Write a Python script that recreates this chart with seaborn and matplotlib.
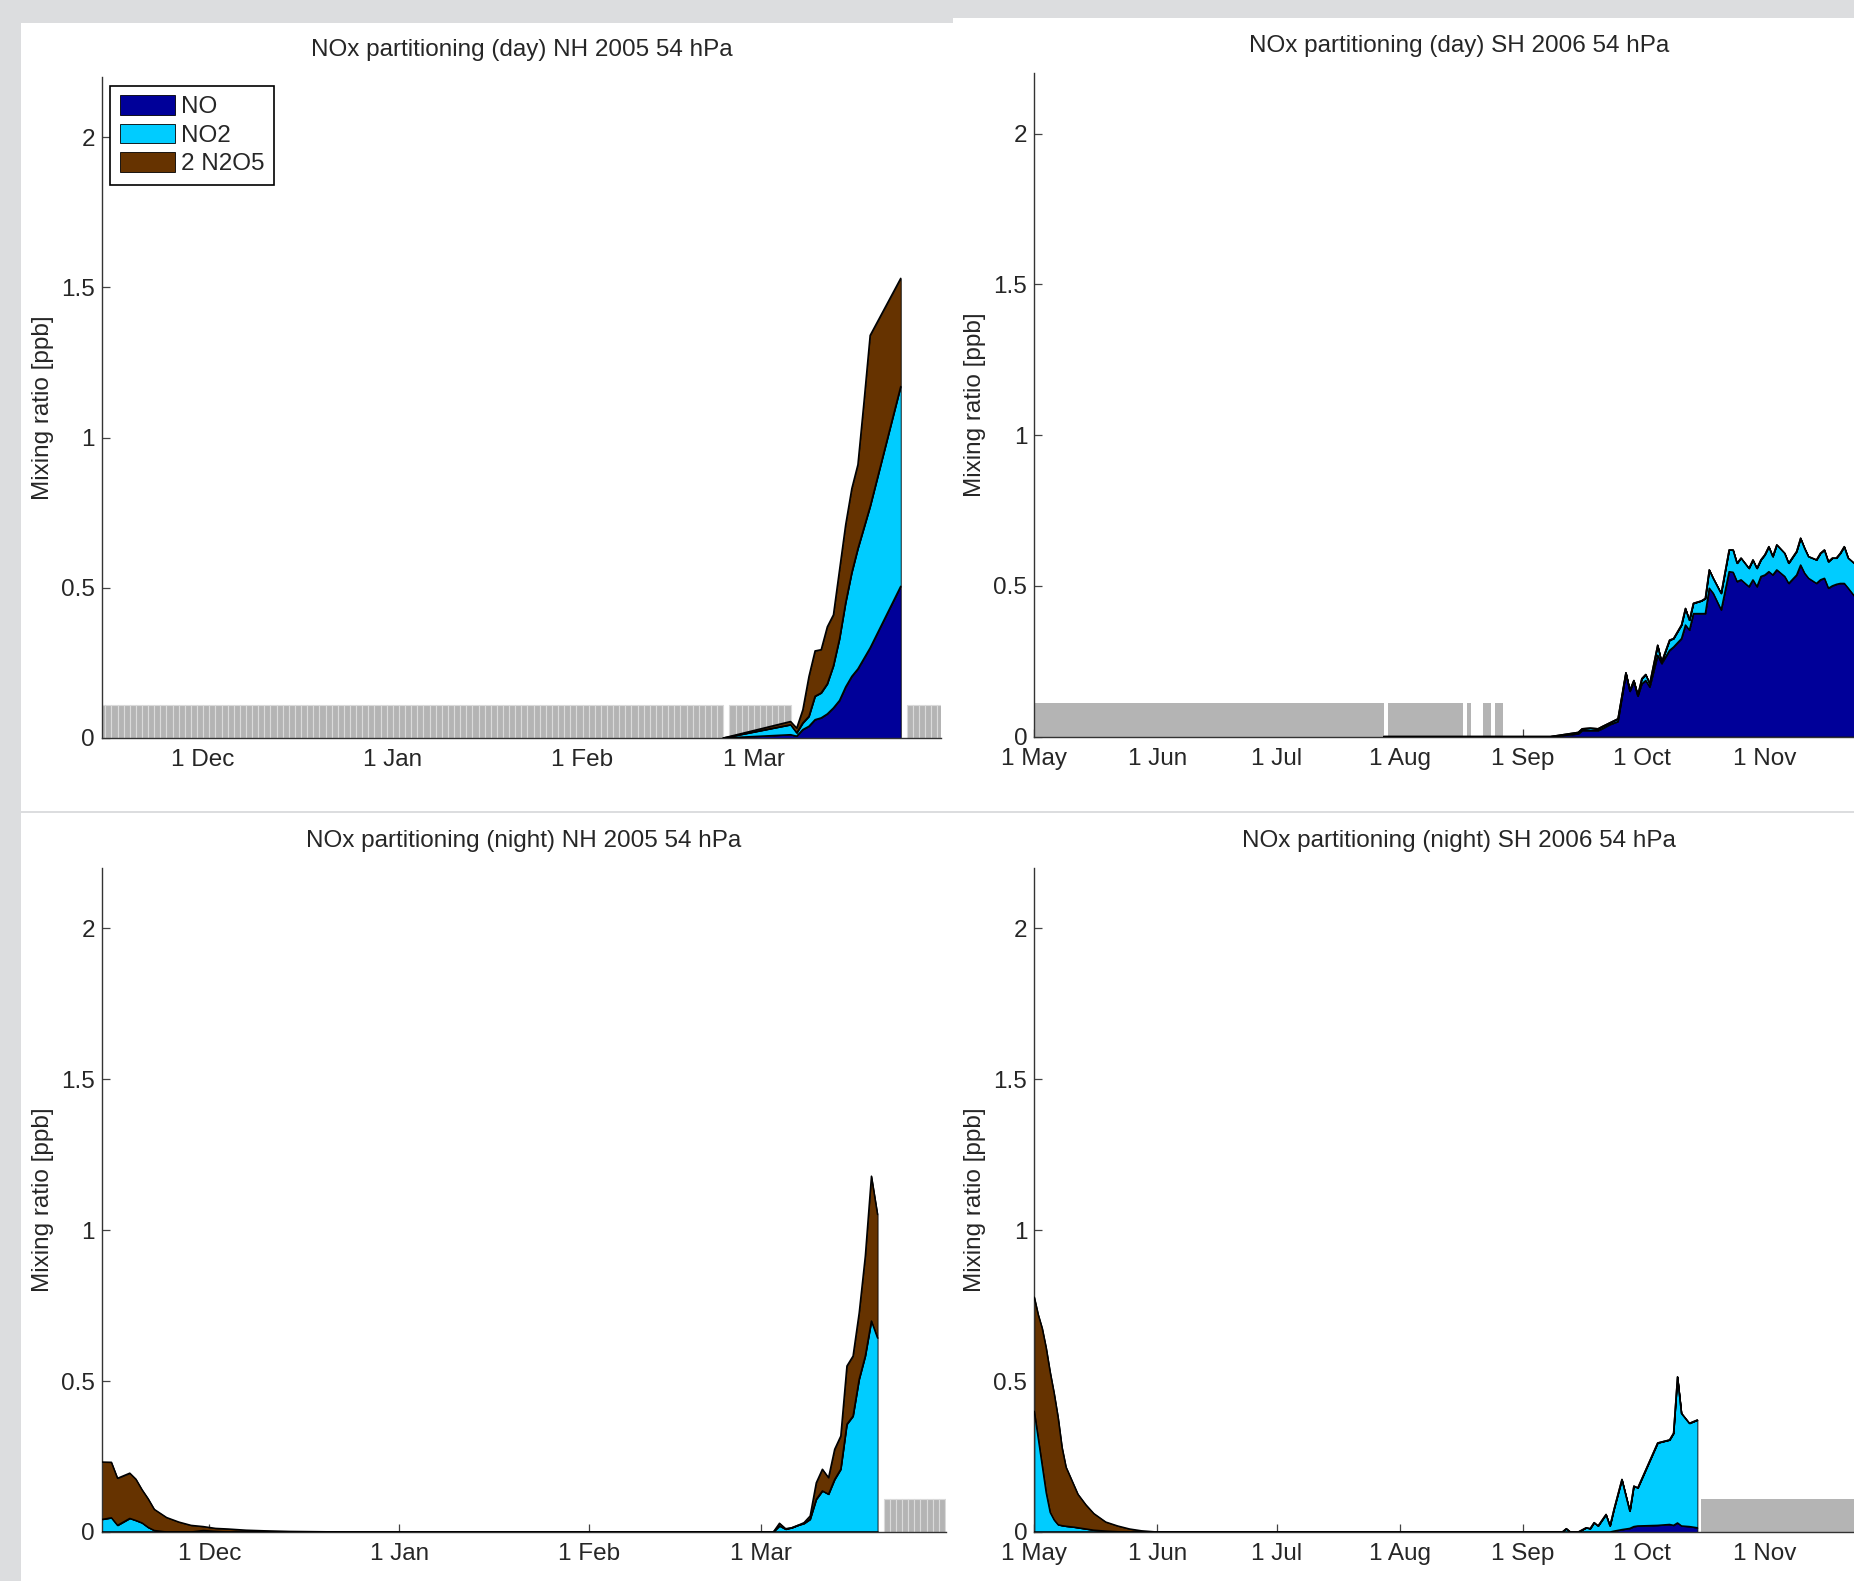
import numpy as np
import pandas as pd
import matplotlib
matplotlib.use('Agg')
import matplotlib.pyplot as plt
import matplotlib.dates as mdates
from matplotlib.patches import Rectangle
import seaborn as sns

# ---- data (mixing ratios in ppb) ----
species = ['NO', 'NO2', '2 N2O5']
species_colors = ['#000099', '#00ccff', '#663300']

# NH 2005, day
nh_day_dates = ['2005-02-24', '2005-03-07', '2005-03-08', '2005-03-09', '2005-03-10', '2005-03-11',
                '2005-03-12', '2005-03-13', '2005-03-14', '2005-03-15', '2005-03-16', '2005-03-17',
                '2005-03-18', '2005-03-19', '2005-03-20', '2005-03-25']
nh_day_no = [0, 0.011, 0.006, 0.028, 0.039, 0.061, 0.067, 0.080, 0.100, 0.125, 0.170, 0.205,
             0.230, 0.265, 0.300, 0.505]
nh_day_no2 = [0, 0.033, 0.011, 0.022, 0.033, 0.078, 0.083, 0.100, 0.140, 0.205, 0.280, 0.345,
              0.400, 0.435, 0.470, 0.665]
nh_day_n2o5 = [0, 0.011, 0.016, 0.044, 0.133, 0.151, 0.144, 0.190, 0.170, 0.230, 0.260, 0.280,
               0.280, 0.420, 0.570, 0.360]
nh_day_gaps = [('2004-11-14', '2005-02-23'), ('2005-02-25', '2005-03-06'), ('2005-03-26', '2005-03-31')]

# NH 2005, night
nh_night_dates = ['2004-11-13', '2004-11-15', '2004-11-16', '2004-11-18', '2004-11-19', '2004-11-20',
                  '2004-11-21', '2004-11-22', '2004-11-24', '2004-11-26', '2004-11-28', '2004-11-30',
                  '2004-12-02', '2004-12-04', '2004-12-07', '2004-12-10', '2004-12-14', '2004-12-24',
                  '2005-01-14', '2005-02-03', '2005-02-23', '2005-03-03', '2005-03-04', '2005-03-05',
                  '2005-03-06', '2005-03-07', '2005-03-08', '2005-03-09', '2005-03-10', '2005-03-11',
                  '2005-03-12', '2005-03-13', '2005-03-14', '2005-03-15', '2005-03-16', '2005-03-17',
                  '2005-03-18', '2005-03-19', '2005-03-20']
nh_night_no = [0] * 39
nh_night_no2 = [0.040, 0.047, 0.022, 0.045, 0.038, 0.030, 0.015, 0.005, 0, 0, 0, 0.005,
                0.002, 0, 0, 0, 0, 0, 0, 0, 0, 0, 0.020, 0.009,
                0.014, 0.022, 0.028, 0.042, 0.108, 0.136, 0.125, 0.174, 0.208, 0.357, 0.384, 0.506,
                0.583, 0.699, 0.643]
nh_night_n2o5 = [0.192, 0.184, 0.156, 0.150, 0.137, 0.110, 0.095, 0.070, 0.048, 0.033, 0.022, 0.013,
                 0.010, 0.010, 0.006, 0.004, 0.002, 0, 0, 0, 0, 0, 0.009, 0.002,
                 0, 0, 0.003, 0.011, 0.055, 0.072, 0.055, 0.100, 0.110, 0.193, 0.199, 0.220,
                 0.331, 0.480, 0.409]
nh_night_gaps = [('2005-03-21', '2005-03-31')]

# SH 2006, day
sh_day_dates = ['2006-07-28', '2006-08-17', '2006-08-19', '2006-08-24', '2006-08-27', '2006-09-08',
                '2006-09-15', '2006-09-16', '2006-09-18', '2006-09-20', '2006-09-21', '2006-09-23',
                '2006-09-25', '2006-09-27', '2006-09-28', '2006-09-29', '2006-09-30', '2006-10-01',
                '2006-10-02', '2006-10-03', '2006-10-05', '2006-10-06', '2006-10-08', '2006-10-09',
                '2006-10-11', '2006-10-12', '2006-10-13', '2006-10-14', '2006-10-16', '2006-10-17',
                '2006-10-18', '2006-10-19', '2006-10-21', '2006-10-23', '2006-10-24', '2006-10-25',
                '2006-10-26', '2006-10-28', '2006-10-29', '2006-10-30', '2006-10-31', '2006-11-01',
                '2006-11-02', '2006-11-03', '2006-11-04', '2006-11-06', '2006-11-07', '2006-11-09',
                '2006-11-10', '2006-11-11', '2006-11-12', '2006-11-14', '2006-11-15', '2006-11-16',
                '2006-11-17', '2006-11-18', '2006-11-19', '2006-11-20', '2006-11-21', '2006-11-22',
                '2006-11-24', '2006-11-26', '2006-11-28', '2006-11-30']
sh_day_no = [0, 0, 0, 0, 0, 0,
             0.009, 0.020, 0.020, 0.020, 0.026, 0.040,
             0.050, 0.209, 0.150, 0.183, 0.134, 0.175,
             0.186, 0.164, 0.270, 0.242, 0.286, 0.297,
             0.325, 0.370, 0.353, 0.408, 0.408, 0.408,
             0.492, 0.475, 0.420, 0.547, 0.545, 0.514,
             0.520, 0.497, 0.520, 0.497, 0.531, 0.536,
             0.547, 0.536, 0.553, 0.531, 0.508, 0.536,
             0.569, 0.542, 0.525, 0.508, 0.520, 0.525,
             0.492, 0.500, 0.505, 0.508, 0.508, 0.492,
             0.458, 0.470, 0.490, 0.470]
sh_day_no2 = [0, 0, 0, 0, 0, 0,
              0.005, 0.006, 0.008, 0.006, 0.007, 0.006,
              0.009, 0.003, 0.003, 0.003, 0.003, 0.017,
              0.020, 0.011, 0.033, 0.005, 0.034, 0.028,
              0.045, 0.055, 0.033, 0.034, 0.042, 0.050,
              0.061, 0.050, 0.055, 0.072, 0.074, 0.061,
              0.072, 0.061, 0.066, 0.061, 0.055, 0.067,
              0.083, 0.061, 0.083, 0.077, 0.067, 0.078,
              0.089, 0.083, 0.072, 0.078, 0.088, 0.094,
              0.088, 0.092, 0.087, 0.100, 0.122, 0.100,
              0.111, 0.110, 0.110, 0.100]
sh_day_n2o5 = [0] * 64
sh_day_gaps = [('2006-05-01', '2006-07-27'), ('2006-07-29', '2006-08-16'), ('2006-08-18', '2006-08-18'),
               ('2006-08-22', '2006-08-23'), ('2006-08-25', '2006-08-26')]

# SH 2006, night
sh_night_dates = ['2006-05-01', '2006-05-02', '2006-05-03', '2006-05-04', '2006-05-05', '2006-05-06',
                  '2006-05-07', '2006-05-08', '2006-05-09', '2006-05-11', '2006-05-12', '2006-05-14',
                  '2006-05-16', '2006-05-19', '2006-05-22', '2006-05-25', '2006-05-28', '2006-06-01',
                  '2006-06-30', '2006-07-30', '2006-08-29', '2006-09-11', '2006-09-12', '2006-09-13',
                  '2006-09-15', '2006-09-17', '2006-09-18', '2006-09-19', '2006-09-20', '2006-09-22',
                  '2006-09-23', '2006-09-24', '2006-09-26', '2006-09-28', '2006-09-29', '2006-09-30',
                  '2006-10-05', '2006-10-08', '2006-10-09', '2006-10-10', '2006-10-11', '2006-10-13',
                  '2006-10-15']
sh_night_no = [0, 0, 0, 0, 0, 0, 0, 0, 0, 0, 0, 0,
               0, 0, 0, 0, 0, 0, 0, 0, 0, 0, 0, 0,
               0, 0, 0, 0, 0, 0, 0, 0.003, 0.008, 0.012, 0.018, 0.020,
               0.022, 0.025, 0.022, 0.030, 0.020, 0.018, 0.014]
sh_night_no2 = [0.400, 0.310, 0.220, 0.130, 0.065, 0.040, 0.024, 0.021, 0.019, 0.016, 0.014, 0.010,
                0.006, 0.003, 0.001, 0, 0, 0, 0, 0, 0, 0, 0.011, 0,
                0, 0.014, 0.011, 0.031, 0.020, 0.058, 0.020, 0.072, 0.166, 0.057, 0.134, 0.126,
                0.273, 0.280, 0.305, 0.484, 0.373, 0.342, 0.357]
sh_night_n2o5 = [0.378, 0.410, 0.455, 0.480, 0.465, 0.420, 0.356, 0.259, 0.196, 0.139, 0.111, 0.080,
                 0.055, 0.030, 0.019, 0.010, 0.004, 0, 0, 0, 0, 0, 0, 0,
                 0, 0, 0, 0, 0, 0, 0, 0, 0, 0, 0, 0,
                 0, 0, 0, 0, 0, 0, 0]
sh_night_gaps = [('2006-10-16', '2006-11-30')]

titles = ['NOx partitioning (day) NH 2005 54 hPa', 'NOx partitioning (day) SH 2006 54 hPa',
          'NOx partitioning (night) NH 2005 54 hPa', 'NOx partitioning (night) SH 2006 54 hPa']
nh_day_range = ('2004-11-14 10:00', '2005-03-31 14:00')
nh_night_range = ('2004-11-13 10:00', '2005-03-31 04:00')
sh_range = ('2006-05-01', '2006-12-01')
y_ticks = [0, 0.5, 1, 1.5, 2]
y_tick_labels = ['0', '0.5', '1', '1.5', '2']

# ---- style ----
sns.set_theme(style='ticks')
FS = 17.5
plt.rcParams['font.family'] = ['Liberation Sans', 'DejaVu Sans']
plt.rcParams.update({'font.size': FS, 'axes.titlesize': FS, 'axes.labelsize': FS,
                     'xtick.labelsize': FS, 'ytick.labelsize': FS, 'legend.fontsize': FS})

W, H = 1854, 1581
fig = plt.figure(figsize=(W / 100, H / 100), dpi=100, facecolor='#dcdddf')


def px_rect(x0, y0, x1, y1):
    # pixel box (top-left origin) -> figure fraction
    return [x0 / W, 1 - y1 / H, (x1 - x0) / W, (y1 - y0) / H]


# white panels of the screenshot collage
for box in [(21, 23, 953, 811), (953, 18, 1854, 811), (21, 813, 1854, 1581)]:
    r = px_rect(*box)
    fig.add_artist(Rectangle(r[:2], r[2], r[3], transform=fig.transFigure,
                             facecolor='white', edgecolor='none', zorder=-10))


def draw_panel(ax, dates, no, no2, n2o5, gaps, title, xrange, striped):
    d = pd.to_datetime(dates)
    for start, end in gaps:
        days = pd.date_range(start, end, freq='D')
        ax.bar(days, np.full(len(days), 0.11), width=1, align='edge', color='#b4b4b4',
               edgecolor='#dadada' if striped else 'none', linewidth=0.8 if striped else 0, zorder=1)
    ax.stackplot(d, no, no2, n2o5, colors=species_colors, labels=species,
                 edgecolor='black', linewidth=0.6, zorder=2)
    cum = np.cumsum([no, no2, n2o5], axis=0)
    long = pd.DataFrame({'date': np.tile(d, 3), 'value': cum.ravel(),
                         'level': np.repeat(['NO', 'NO+NO2', 'total'], len(d))})
    sns.lineplot(data=long, x='date', y='value', units='level', estimator=None,
                 color='black', linewidth=1.1, ax=ax, zorder=3, legend=False)

    x0, x1 = pd.Timestamp(xrange[0]), pd.Timestamp(xrange[1])
    ax.set_xlim(x0, x1)
    ax.set_ylim(0, 2.2)
    ticks = [t for t in pd.date_range(x0.normalize(), x1, freq='MS') if x0 <= t < x1]
    ax.set_xticks(ticks)
    ax.xaxis.set_major_formatter(mdates.DateFormatter('%-d %b'))
    ax.set_yticks(y_ticks, labels=y_tick_labels)
    ax.set_xlabel('')
    ax.set_ylabel('Mixing ratio [ppb]')
    ax.set_title(title, pad=15)
    sns.despine(ax=ax)
    for s in ['left', 'bottom']:
        ax.spines[s].set_color('#333333')
        ax.spines[s].set_linewidth(1.0)
    ax.tick_params(axis='both', direction='in', length=6, width=0.9, color='#444444')
    ax.tick_params(axis='x', pad=8)
    ax.tick_params(axis='y', pad=5)
    ax.set_facecolor('white')


panels = [
    (px_rect(101.7, 77, 941, 738), nh_day_dates, nh_day_no, nh_day_no2, nh_day_n2o5, nh_day_gaps, titles[0], nh_day_range, True),
    (px_rect(1034.3, 73.3, 1884, 736.6), sh_day_dates, sh_day_no, sh_day_no2, sh_day_n2o5, sh_day_gaps, titles[1], sh_range, False),
    (px_rect(101.7, 868, 946, 1532), nh_night_dates, nh_night_no, nh_night_no2, nh_night_n2o5, nh_night_gaps, titles[2], nh_night_range, True),
    (px_rect(1034.3, 868, 1884, 1532), sh_night_dates, sh_night_no, sh_night_no2, sh_night_n2o5, sh_night_gaps, titles[3], sh_range, False),
]

axes = []
for pos, *args in panels:
    ax = fig.add_axes(pos)
    draw_panel(ax, *args)
    width_px = pos[2] * W
    ax.yaxis.set_label_coords(-48 / width_px, 0.5)
    axes.append(ax)

leg = axes[0].legend(loc='upper left', bbox_to_anchor=(0, 1), borderaxespad=0.35, fancybox=False,
                     framealpha=1, edgecolor='black', handlelength=2.25, handleheight=0.85,
                     handletextpad=0.25, labelspacing=0.22, borderpad=0.4)
leg.get_frame().set_linewidth(1.2)

fig.savefig('out.png', dpi=100, facecolor=fig.get_facecolor())
